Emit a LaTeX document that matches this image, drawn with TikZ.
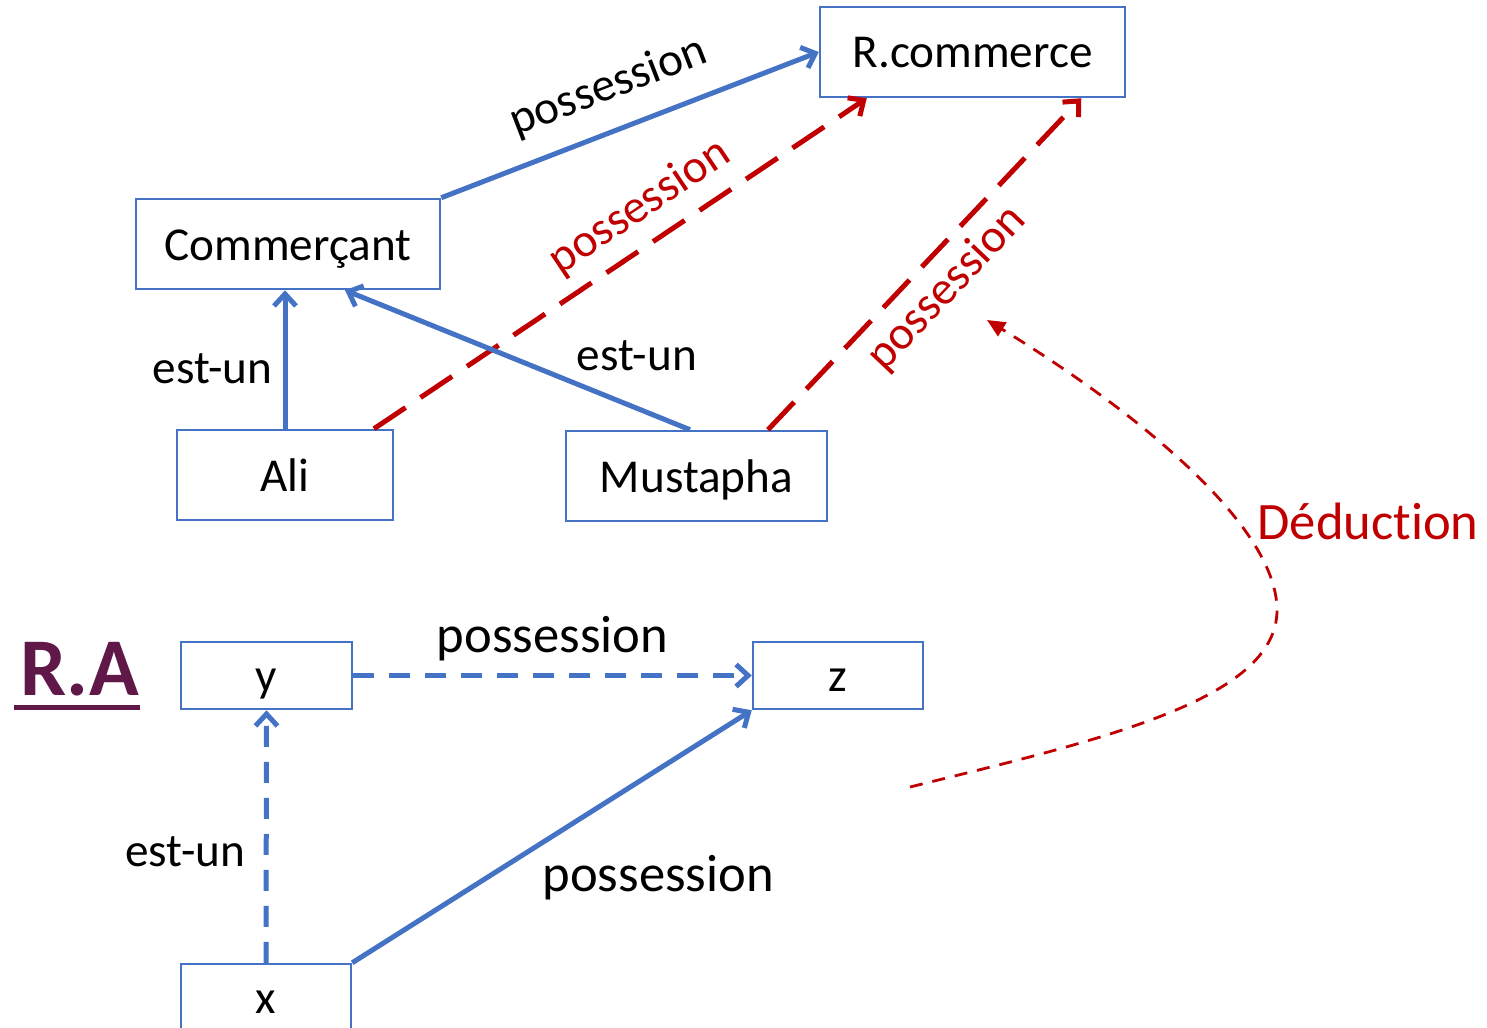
\documentclass[tikz,border=0pt]{standalone}
\usepackage{fontspec}
\setmainfont{Carlito}[Ligatures=NoCommon]
\usetikzlibrary{arrows.meta,calc}
\definecolor{boxblue}{HTML}{4472C4}
\definecolor{deepred}{HTML}{C00000}
\definecolor{plum}{HTML}{601848}
\begin{document}
\begin{tikzpicture}[x=0.5pt,y=-0.5pt,
  concept/.style={draw=boxblue, line width=1.25pt, rectangle, inner sep=0pt,
    text height=18pt, text depth=2pt,
    font=\fontsize{23.6}{28}\selectfont},
  barb/.style={-{Straight Barb[length=6pt,width=11pt]}},
  link/.style={draw=boxblue, line width=2.5pt, barb},
  linkdash/.style={link, dash pattern=on 10.5pt off 7.5pt},
  inferred/.style={draw=deepred, line width=2.5pt, dash pattern=on 19pt off 9pt, barb},
  deduce/.style={draw=deepred, line width=1.4pt, dash pattern=on 6.5pt off 5pt,
    -{Triangle[length=9pt,width=8pt]}},
  isa/.style={inner sep=0pt, font=\fontsize{23.6}{28}\selectfont},
  rel/.style={inner sep=0pt, font=\fontsize{26.3}{30}\selectfont},
]
\clip (0,0) rectangle (1487,1027);

% concrete network
\node[concept, minimum width=152.5pt, minimum height=45pt] (rc)  at (972.5,52) {R.commerce};
\node[concept, minimum width=152pt,   minimum height=45pt] (com) at (288,244)  {Commerçant};
\node[concept, minimum width=108pt,   minimum height=45pt] (ali) at (285,475)  {Ali};
\node[concept, minimum width=130.5pt, minimum height=45pt] (mus) at (696.5,476) {Mustapha};

\draw[link] (com.north east) -- (rc.west)
  node[isa, pos=0.485, sloped, above=10.2pt] {possession};
\draw[inferred] ([xshift=44.5pt]ali.north) -- ([xshift=24pt]rc.south west)
  node[isa, text=deepred, pos=0.58, sloped, above=6.7pt] {possession};
\draw[inferred] ([xshift=35.75pt]mus.north) -- ([xshift=-22.5pt]rc.south east)
  node[isa, text=deepred, pos=0.495, sloped, below=5.2pt] {possession};
\draw[link] (ali.north) -- (ali.north |- com.south)
  node[isa, pos=0.43, left=5pt] {est-un};
\draw[link] ([xshift=-3.25pt]mus.north) -- ([xshift=28.5pt]com.south)
  node[isa, pos=0.154, yshift=26.5pt] {est-un};

% abstract rule
\node[font=\bfseries\fontsize{41}{48}\selectfont, text=plum, inner sep=0pt, anchor=base west] (ra) at (20,695) {R.A};
\draw[plum, line width=2.5pt] ([xshift=-3pt,yshift=-6.25pt]ra.base west) -- ([yshift=-6.25pt]ra.base east);

\node[concept, minimum width=85.5pt, minimum height=33.5pt] (y) at (266.5,675.5) {y};
\node[concept, minimum width=85pt,   minimum height=33.5pt] (z) at (838,675.5)   {z};
\node[concept, minimum width=85pt,   minimum height=33.5pt] (x) at (266,997.5)   {x};

\draw[linkdash] (y.east) -- (z.west)
  node[rel, pos=0.5, yshift=18.5pt] {possession};
\draw[linkdash] (x.north) -- (y.south)
  node[isa, pos=0.44, xshift=-40.5pt] {est-un};
\draw[link] (x.north east) -- (z.south west)
  node[rel, pos=0.766, yshift=-54pt] {possession};

% deduction
\coordinate (dstart) at (910,787);
\coordinate (dend) at (987,320);
\draw[deduce] (dstart) .. controls (1100,740) and (1277,700) .. (1277,610)
  .. controls (1277,530) and (1150,420) .. (dend);
\node[rel, text=deepred] (ded) at (1368,521) {Déduction};
\end{tikzpicture}
\end{document}
